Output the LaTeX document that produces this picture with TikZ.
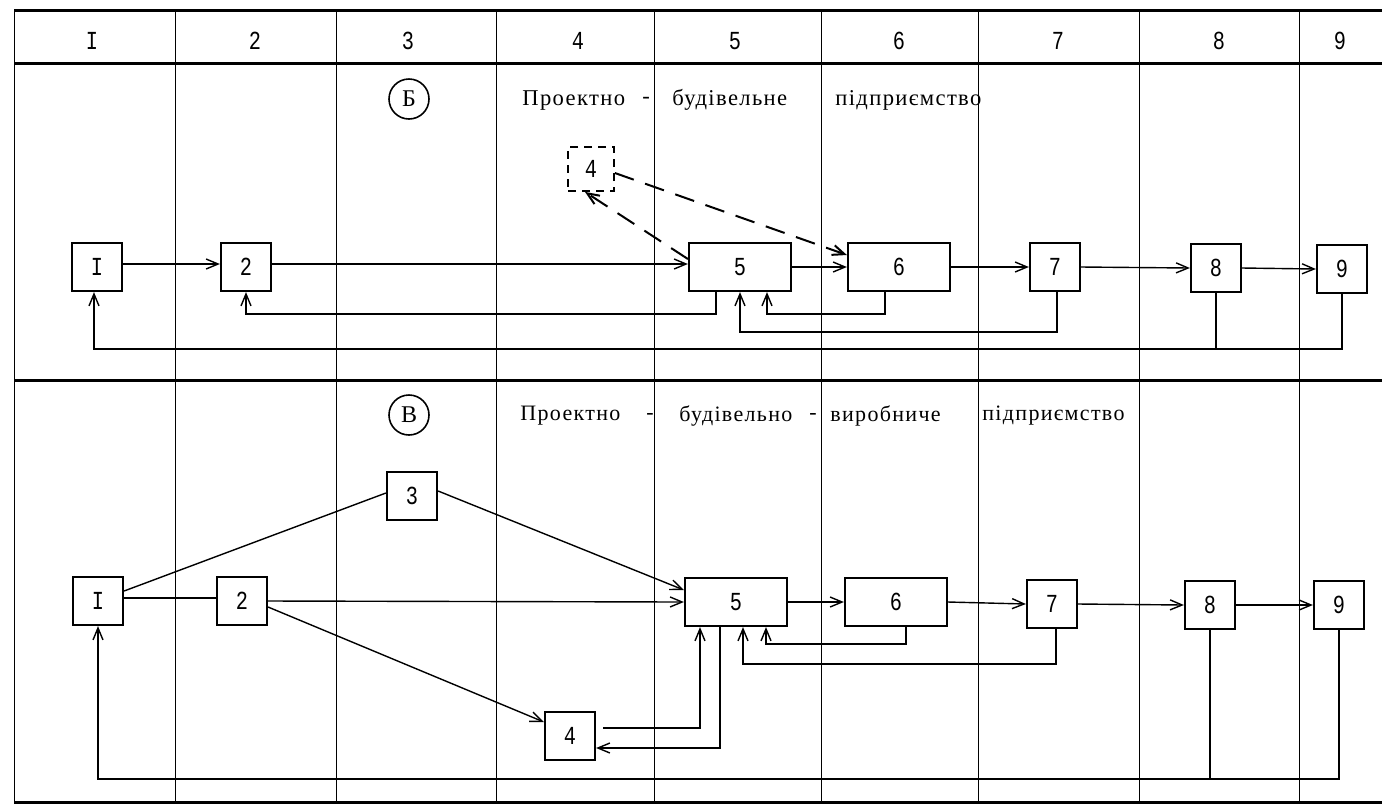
\documentclass[tikz,border=0pt]{standalone}
\usepackage{fontspec}
\newfontfamily\tw[FakeStretch=0.78]{Liberation Mono}
\newfontfamily\tws[LetterSpace=6]{Liberation Serif}
\usetikzlibrary{arrows.meta}
\begin{document}
\begin{tikzpicture}[x=0.5pt,y=-0.5pt,
  grid/.style={line width=0.5pt},
  frame/.style={line width=1.5pt},
  box/.style={draw,line width=1.1pt,minimum width=25pt,minimum height=24pt,inner sep=0pt,font=\tw\fontsize{13}{13}\selectfont},
  wbox/.style={box,minimum width=51pt},
  dbox/.style={draw,dash pattern=on 4pt off 3pt,line width=0.9pt,minimum width=23pt,minimum height=22pt,inner sep=0pt,font=\tw\fontsize{13}{13}\selectfont},
  con/.style={line width=0.7pt},
  arr/.style={con,-{Straight Barb[length=6pt,width=5pt]}},
  darr/.style={arr,line width=1pt,dash pattern=on 10pt off 6pt},
  hdr/.style={font=\tw\fontsize{13}{13}\selectfont},
  ttlA/.style={anchor=west,inner sep=0pt,font=\tws\fontsize{11.3}{13}\selectfont},
  ttlB/.style={anchor=west,inner sep=0pt,font=\tws\fontsize{11}{13}\selectfont},
  seclabel/.style={circle,draw,line width=0.8pt,minimum size=20pt,inner sep=0pt,font=\tws\fontsize{12}{13}\selectfont}
]
\useasboundingbox (0,0) rectangle (1382,805);
\fill[white] (0,0) rectangle (1382,805);

% grid
\foreach \x in {14,175,336,496,654,821,978,1139,1299} \draw[grid] (\x,10) -- (\x,802);
\foreach \y in {10,63,380,802} \draw[frame] (14,\y) -- (1382,\y);

% header
\node[hdr] (h1) at (92,41) {I};
\node[hdr] (h2) at (255,41) {2};
\node[hdr] (h3) at (408,41) {3};
\node[hdr] (h4) at (578,41) {4};
\node[hdr] (h5) at (735,41) {5};
\node[hdr] (h6) at (899,41) {6};
\node[hdr] (h7) at (1058,41) {7};
\node[hdr] (h8) at (1219,41) {8};
\node[hdr] (h9) at (1340,41) {9};

% ---------- section B (upper)
\node[seclabel] (cB) at (409,99) {Б};
\node[ttlA] (tA1) at (522,100) {Проектно};
\node[ttlA] (tA2) at (642,100) {-};
\node[ttlA] (tA3) at (672,100) {будівельне};
\node[ttlA] (tA4) at (835,100) {підприємство};

\node[dbox] (u4) at (591,169) {4};
\node[box] (u1) at (97,267) {I};
\node[box] (u2) at (246,267) {2};
\node[wbox] (u5) at (740,267) {5};
\node[wbox] (u6) at (899,267) {6};
\node[box] (u7) at (1055,267) {7};
\node[box] (u8) at (1216,268) {8};
\node[box] (u9) at (1342,269) {9};

\draw[arr] ([yshift=1.5pt]u1.east) -- ([yshift=1.5pt]u2.west);
\draw[arr] ([yshift=1.5pt]u2.east) -- ([yshift=1.5pt]u5.west);
\draw[arr] (u5.east) -- (u6.west);
\draw[arr] (u6.east) -- (u7.west);
\draw[arr] (u7.east) -- (u8.west);
\draw[arr] (u8.east) -- (u9.west);

\draw[darr] ([shift={(0,4)}]u4.east) -- ([shift={(0,-12)}]u6.west);
\draw[darr] ([shift={(0,-8)}]u5.west) -- ([shift={(-6,0)}]u4.south);

\draw[arr] ([shift={(-24,0)}]u5.south) -- ++(0,22) -| (u2.south);
\draw[arr] ([shift={(-14,0)}]u6.south) -- ++(0,22) -| ([shift={(27,0)}]u5.south);
\draw[arr] ([shift={(2,0)}]u7.south) -- ++(0,40) -| (u5.south);
\draw[arr] (u9.south) -- ++(0,55) -| ([shift={(-3,0)}]u1.south);
\coordinate (ufb) at (0,348);
\draw[con] (u8.south) -- (u8.south |- ufb);

% ---------- section V (lower)
\node[seclabel] (cV) at (409,415) {В};
\node[ttlB] (tB1) at (520,416) {Проектно};
\node[ttlB] (tB2) at (646,416) {-};
\node[ttlB] (tB3) at (679,416) {будівельно};
\node[ttlB] (tB4) at (809,416) {-};
\node[ttlB] (tB5) at (830,416) {виробниче};
\node[ttlB] (tB6) at (982,416) {підприємство};

\node[box] (l3) at (412,496) {3};
\node[box] (l1) at (98,601) {I};
\node[box] (l2) at (242,601) {2};
\node[wbox] (l5) at (736,602) {5};
\node[wbox] (l6) at (896,602) {6};
\node[box] (l7) at (1052,604) {7};
\node[box] (l8) at (1210,605) {8};
\node[box] (l9) at (1339,605) {9};
\node[box] (l4) at (570,736) {4};

\draw[con] ([shift={(0,-10)}]l1.east) -- ([shift={(0,-3)}]l3.west);
\draw[arr] ([shift={(0,-5)}]l3.east) -- ([shift={(0,-12)}]l5.west);
\draw[con] ([shift={(0,-3)}]l1.east) -- ([shift={(0,-3)}]l2.west);
\draw[arr] (l2.east) -- (l5.west);
\draw[arr] ([shift={(0,6)}]l2.east) -- ([shift={(0,-14)}]l4.west);

\draw[arr] (l5.east) -- (l6.west);
\draw[arr] (l6.east) -- (l7.west);
\draw[arr] (l7.east) -- (l8.west);
\draw[arr] (l8.east) -- (l9.west);

\draw[arr] ([shift={(7,-8)}]l4.east) -| ([shift={(-36,0)}]l5.south);
\draw[arr] ([shift={(-16,0)}]l5.south) |- ([shift={(0,12)}]l4.east);

\draw[arr] ([shift={(10,0)}]l6.south) -- ++(0,17) -| ([shift={(30,0)}]l5.south);
\draw[arr] ([shift={(4,0)}]l7.south) -- ++(0,35) -| ([shift={(7,0)}]l5.south);
\draw[arr] (l9.south) -- ++(0,149) -| (l1.south);
\coordinate (lfb) at (0,778);
\draw[con] (l8.south) -- (l8.south |- lfb);
\end{tikzpicture}
\end{document}
